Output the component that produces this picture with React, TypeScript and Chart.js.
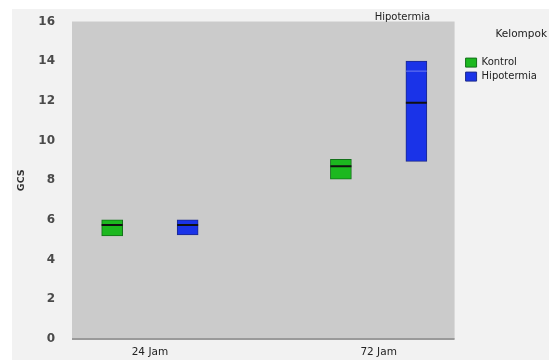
import React, { useEffect, useRef } from "react";
import { Chart, registerables } from "chart.js";

Chart.register(...registerables);

const categories = ["24 Jam", "72 Jam"];
const kontrolLow = [5.2, 8.05];
const kontrolHigh = [6.0, 9.05];
const kontrolMedian = [5.75, 8.7];
const hipoLow = [5.25, 8.95];
const hipoHigh = [6.0, 14.0];
const hipoMedian = [5.75, 11.9];
const hipoMean = [null, 13.5];
const yTicks = [0, 2, 4, 6, 8, 10, 12, 14, 16];

const GROUP_OFFSET = 0.165;
const FONT = "'DejaVu Sans', Verdana, sans-serif";

export default function App() {
  const ref = useRef<HTMLCanvasElement | null>(null);

  useEffect(() => {
    if (!ref.current) return;
    const bgPlugin = {
      id: "bgPlugin",
      beforeDatasetsDraw(chart: any) {
        const { ctx, chartArea } = chart;
        ctx.save();
        ctx.fillStyle = "#cbcbcb";
        ctx.fillRect(chartArea.left, chartArea.top, chartArea.right - chartArea.left, chartArea.bottom - chartArea.top);
        ctx.strokeStyle = "#9a9a9a";
        ctx.lineWidth = 2;
        ctx.beginPath();
        ctx.moveTo(chartArea.left, chartArea.bottom);
        ctx.lineTo(chartArea.right, chartArea.bottom);
        ctx.stroke();
        ctx.restore();
      },
      afterDraw(chart: any) {
        const { ctx, chartArea, scales } = chart;
        ctx.save();
        ctx.fillStyle = "#222";
        ctx.font = `10px ${FONT}`;
        ctx.textAlign = "center";
        ctx.textBaseline = "middle";
        const x = scales.x.getPixelForValue(1 + GROUP_OFFSET) - 14;
        ctx.fillText("Hipotermia", x, chartArea.top - 4);
        ctx.restore();
      },
    };

    const chart = new Chart(ref.current, {
      type: "bar",
      data: {
        datasets: [
          {
            type: "scatter",
            label: "median",
            data: categories.flatMap((_, i) => [
              { x: i - GROUP_OFFSET, y: kontrolMedian[i] },
              { x: i + GROUP_OFFSET, y: hipoMedian[i] },
            ]),
            pointStyle: "line",
            pointRadius: 10.5,
            borderColor: "#111",
            borderWidth: 2,
            order: 0,
          } as any,
          {
            type: "scatter",
            label: "mean",
            data: categories
              .map((_, i) => ({ x: i + GROUP_OFFSET, y: hipoMean[i] }))
              .filter((p) => p.y !== null),
            pointStyle: "line",
            pointRadius: 10.5,
            borderColor: "#6f7cf0",
            borderWidth: 1,
            order: 0,
          } as any,
          {
            label: "Kontrol",
            data: categories.map((_, i) => ({ x: i - GROUP_OFFSET, y: [kontrolLow[i], kontrolHigh[i]] })) as any,
            backgroundColor: "#1cb81f",
            borderColor: "#13701a",
            borderWidth: 1,
            borderSkipped: false,
            barThickness: 21,
            grouped: false,
            order: 1,
          },
          {
            label: "Hipotermia",
            data: categories.map((_, i) => ({ x: i + GROUP_OFFSET, y: [hipoLow[i], hipoHigh[i]] })) as any,
            backgroundColor: "#1a33e8",
            borderColor: "#1d2a8c",
            borderWidth: 1,
            borderSkipped: false,
            barThickness: 21,
            grouped: false,
            order: 1,
          },
        ],
      },
      options: {
        animation: false,
        responsive: false,
        layout: { padding: { top: 12, left: 0, right: 2, bottom: 0 } },
        scales: {
          x: {
            type: "linear",
            offset: false,
            min: -0.3406,
            max: 1.332,
            grid: { display: false, drawTicks: false },
            border: { display: false },
            afterBuildTicks(scale: any) {
              scale.ticks = categories.map((_, i) => ({ value: i }));
            },
            afterFit(scale: any) {
              scale.height = 21;
            },
            ticks: {
              padding: 7,
              color: "#222",
              font: { family: FONT, size: 10.5 },
              callback: (v: any) => categories[v as number] ?? "",
            },
          },
          y: {
            min: 0,
            max: 16,
            grid: { display: false, drawTicks: false },
            border: { display: false },
            afterBuildTicks(scale: any) {
              scale.ticks = yTicks.map((v) => ({ value: v }));
            },
            afterFit(scale: any) {
              scale.width = 60;
              scale.paddingTop = 0;
              scale.paddingBottom = 0;
            },
            ticks: {
              padding: 17,
              color: "#4a4a4a",
              font: { family: FONT, size: 12, weight: "bold" },
            },
            title: {
              display: true,
              text: "GCS",
              color: "#333",
              font: { family: FONT, size: 9.5, weight: "bold" },
              padding: { top: 4, bottom: 4 },
            },
          },
          spacer: {
            type: "linear",
            position: "right",
            display: true,
            grid: { display: false, drawTicks: false },
            border: { display: false },
            ticks: { display: false },
            afterFit(scale: any) {
              scale.width = 7;
              scale.paddingTop = 0;
              scale.paddingBottom = 0;
            },
          },
        },
        plugins: {
          tooltip: { enabled: false },
          legend: {
            position: "right",
            align: "start",
            title: {
              display: true,
              text: "Kelompok",
              position: "end",
              color: "#222",
              font: { family: FONT, size: 10.5 },
              padding: { top: 8, bottom: 12 },
            },
            labels: {
              filter: (item: any) => item.text === "Kontrol" || item.text === "Hipotermia",
              boxWidth: 11,
              boxHeight: 9,
              padding: 4,
              color: "#222",
              font: { family: FONT, size: 10 },
            },
          },
        },
      },
      plugins: [bgPlugin],
    } as any);

    return () => chart.destroy();
  }, []);

  return (
    <div
      style={{
        position: "absolute",
        left: 12,
        top: 9,
        width: 537,
        height: 351,
        background: "#f2f2f2",
      }}
    >
      <canvas ref={ref} width={537} height={351} style={{ display: "block" }} />
    </div>
  );
}
